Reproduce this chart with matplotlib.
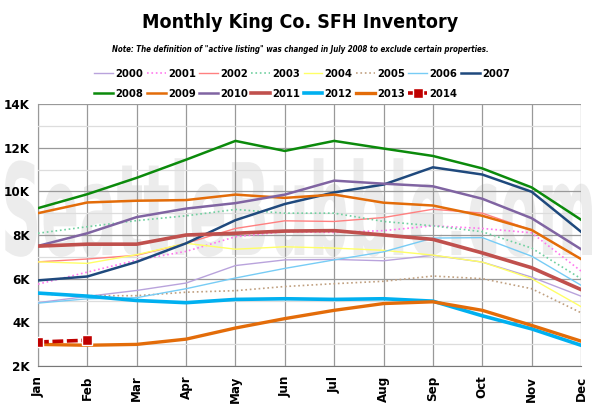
import matplotlib
matplotlib.use("Agg")
import matplotlib.pyplot as plt
from matplotlib.textpath import TextPath
from matplotlib.patches import PathPatch
from matplotlib.font_manager import FontProperties
from matplotlib.transforms import Affine2D
from matplotlib.ticker import MultipleLocator, FuncFormatter

months = ["Jan", "Feb", "Mar", "Apr", "May", "Jun", "Jul", "Aug", "Sep", "Oct", "Nov", "Dec"]

# inventory, thousands of listings
y2000 = [4.90, 5.19, 5.46, 5.80, 6.60, 6.86, 6.88, 6.82, 7.07, 6.76, 6.07, 5.20]
y2001 = [5.75, 6.30, 6.85, 7.25, 7.92, 8.15, 8.12, 8.20, 8.42, 8.30, 8.10, 6.35]
y2002 = [6.77, 6.90, 7.07, 7.62, 8.30, 8.65, 8.62, 8.80, 9.18, 9.00, 8.23, 6.90]
y2003 = [8.08, 8.38, 8.66, 8.88, 9.17, 9.00, 9.00, 8.62, 8.42, 8.15, 7.40, 6.00]
y2004 = [6.77, 6.70, 7.10, 7.62, 7.35, 7.46, 7.40, 7.30, 7.08, 6.76, 6.00, 4.72]
y2005 = [5.30, 5.22, 5.22, 5.38, 5.45, 5.64, 5.77, 5.88, 6.12, 6.00, 5.54, 4.44]
y2006 = [4.88, 5.08, 5.13, 5.54, 6.03, 6.47, 6.86, 7.23, 7.86, 7.88, 7.03, 5.70]
y2007 = [5.92, 6.10, 6.77, 7.62, 8.68, 9.42, 9.95, 10.31, 11.10, 10.77, 9.98, 8.15]
y2008 = [9.23, 9.87, 10.62, 11.45, 12.31, 11.85, 12.31, 11.96, 11.62, 11.05, 10.18, 8.70]
y2009 = [9.00, 9.49, 9.57, 9.60, 9.85, 9.70, 9.85, 9.48, 9.35, 8.88, 8.23, 6.90]
y2010 = [7.50, 8.08, 8.82, 9.21, 9.46, 9.85, 10.49, 10.35, 10.23, 9.66, 8.77, 7.35]
y2011 = [7.49, 7.58, 7.58, 8.00, 8.08, 8.18, 8.20, 8.00, 7.80, 7.18, 6.50, 5.50]
y2012 = [5.34, 5.20, 5.00, 4.90, 5.05, 5.08, 5.05, 5.08, 4.97, 4.30, 3.70, 2.95]
y2013 = [2.99, 2.95, 2.99, 3.23, 3.74, 4.17, 4.55, 4.86, 4.94, 4.55, 3.86, 3.14]
y2014 = [3.10, 3.18]

fam = "DejaVu Sans"
cond = "condensed"

fig = plt.figure(figsize=(6, 4.08), dpi=100)
ax = fig.add_axes([38 / 600, 42 / 408, 543 / 600, 262 / 408])

# watermark behind everything
tp = TextPath((0, 0), "SeattleBubble.com", size=1,
              prop=FontProperties(family="DejaVu Sans", weight="bold", stretch=cond))
ext = tp.get_extents()
x0, x1 = 5 / 600, 592 / 600
yb, yt = (408 - 255) / 408, (408 - 162) / 408
tr = Affine2D().translate(-ext.x0, 0).scale((x1 - x0) / ext.width, (yt - yb) / 0.73).translate(x0, yb) + fig.transFigure
ax.add_patch(PathPatch(tp, transform=tr, facecolor="#ececec", edgecolor="none", zorder=0.1, clip_on=False))

x = list(range(12))
styles = [
    ("2000", y2000, "#b9a3dc", "-", 1.0),
    ("2001", y2001, "#ff77ee", ":", 1.2),
    ("2002", y2002, "#ff8080", "-", 1.0),
    ("2003", y2003, "#70d0a0", ":", 1.2),
    ("2004", y2004, "#ffff66", "-", 1.0),
    ("2005", y2005, "#c0a080", ":", 1.2),
    ("2006", y2006, "#77ccf5", "-", 1.0),
    ("2007", y2007, "#1f497d", "-", 1.8),
    ("2008", y2008, "#0b8a0b", "-", 1.8),
    ("2009", y2009, "#e36c09", "-", 1.8),
    ("2010", y2010, "#8064a2", "-", 1.8),
    ("2011", y2011, "#c0504d", "-", 2.6),
    ("2012", y2012, "#00b0f0", "-", 2.6),
    ("2013", y2013, "#e36c09", "-", 2.4),
]
handles = []
for label, vals, col, ls, lw in styles:
    h, = ax.plot(x, vals, color=col, ls=ls, lw=lw, label=label, zorder=3)
    handles.append(h)
h, = ax.plot(x[:2], y2014, color="#c00000", ls=(0, (3, 1)), lw=2.6, marker="s", ms=7,
             mec="white", mew=1, label="2014", zorder=4)
handles.append(h)

ax.set_xlim(0, 11)
ax.set_ylim(2, 14)
ax.yaxis.set_major_locator(MultipleLocator(2))
ax.yaxis.set_minor_locator(MultipleLocator(1))
ax.yaxis.set_major_formatter(FuncFormatter(lambda v, p: "%dK" % v))
ax.set_xticks(x)
ax.set_xticklabels(months, rotation=90)
ax.set_axisbelow(False)
ax.grid(which="major", axis="both", color="#999999", lw=0.9, zorder=1)
ax.grid(which="minor", axis="y", color="#dddddd", lw=0.9, zorder=0.9)
ax.patch.set_alpha(0)
for s in ["top", "right"]:
    ax.spines[s].set_visible(False)
ax.spines["left"].set_color("#777777")
ax.spines["bottom"].set_color("#777777")
ax.tick_params(which="both", length=0, pad=6)
ax.tick_params(axis="x", pad=7)
for t in ax.get_xticklabels() + ax.get_yticklabels():
    t.set_family(fam)
    t.set_stretch(cond)
    t.set_fontweight("bold")
    t.set_fontsize(9.5)

fig.text(0.5, 386 / 408, "Monthly King Co. SFH Inventory", ha="center", va="center",
         family=fam, stretch=cond, fontsize=14, weight="bold")
fig.text(0.5, 358 / 408, 'Note: The definition of "active listing" was changed in July 2008 to exclude certain properties.',
         ha="center", va="center", family=fam, stretch=cond, fontsize=5.7, style="oblique", weight="bold")

# legend fills row by row
n = len(handles)
order = []
for c in range(8):
    order.append(c)
    if c + 8 < n:
        order.append(c + 8)
fig.legend([handles[i] for i in order], [handles[i].get_label() for i in order],
           loc="center", bbox_to_anchor=(302 / 600, 324 / 408), ncol=8, frameon=False,
           prop={"family": fam, "stretch": cond, "weight": "bold", "size": 8}, handlelength=1.7,
           handletextpad=0.2, columnspacing=0.3, labelspacing=0.95, borderpad=0)

fig.savefig("out.png", dpi=100)
